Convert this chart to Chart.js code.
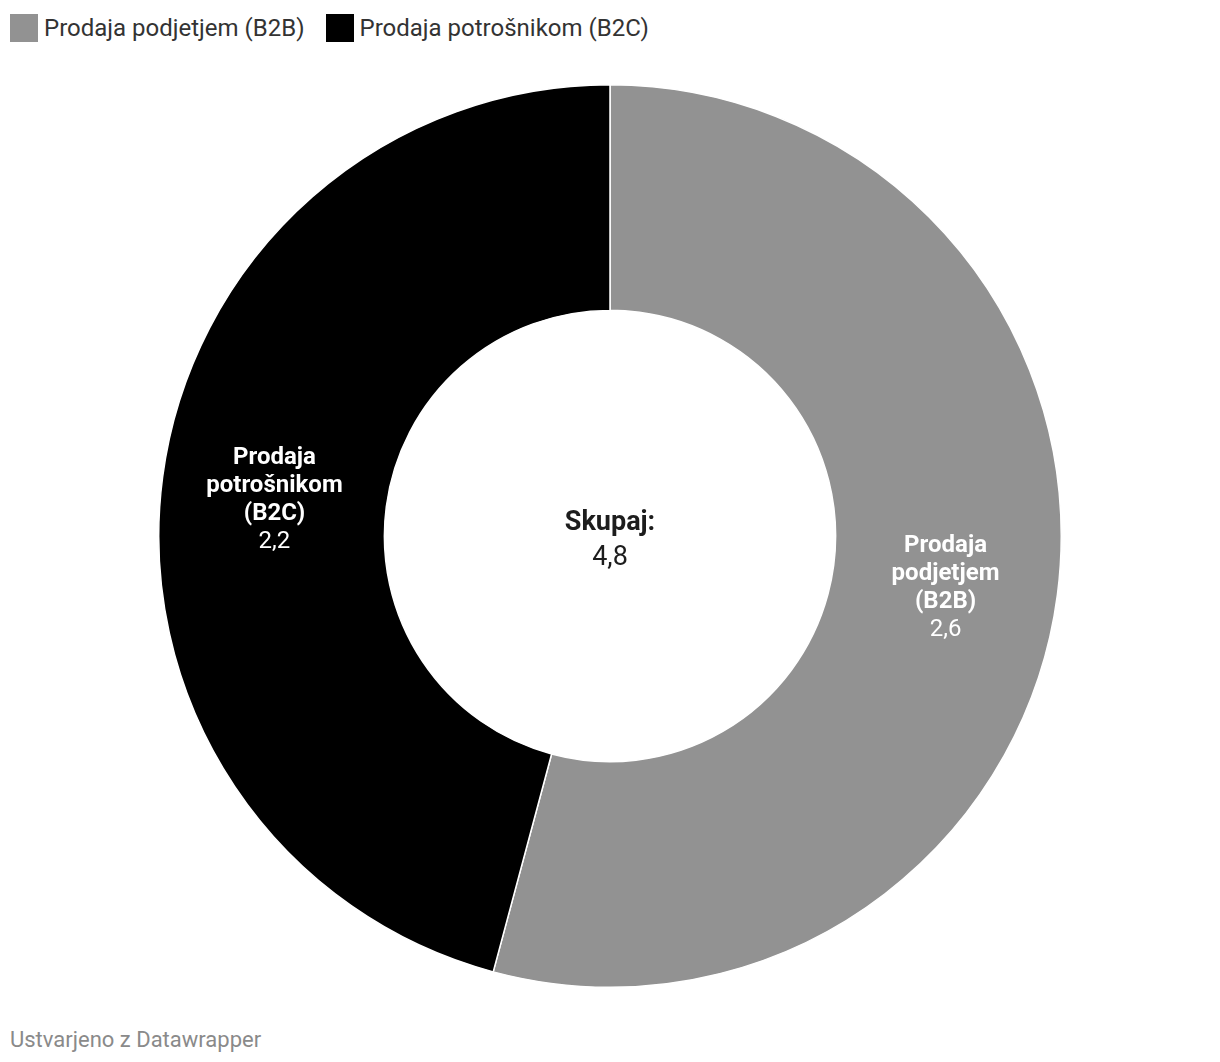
<!DOCTYPE html>
<html>
<head>
<meta charset="utf-8">
<script src="https://cdn.jsdelivr.net/npm/chart.js"></script>
<style>
    body { margin: 0; background: #fff; font-family: 'Roboto', sans-serif; width: 1220px; height: 1062px; position: relative; overflow: hidden; }
    #legend { position: absolute; left: 10px; top: 14px; display: flex; align-items: center; font-size: 24px; color: #333; line-height: 28px; }
    .item { display: flex; align-items: center; margin-right: 21px; }
    .box { width: 28px; height: 28px; margin-right: 6px; }
    #wrap { position: absolute; left: 158px; top: 84px; width: 904px; height: 904px; }
    #footer { position: absolute; left: 10px; top: 1027px; font-size: 22px; color: #8a8a8a; }
</style>
</head>
<body>
<div id="legend"></div>
<div id="wrap"><canvas id="myChart"></canvas></div>
<div id="footer">Ustvarjeno z Datawrapper</div>

<script>
    const labels = ['Prodaja podjetjem (B2B)', 'Prodaja potrošnikom (B2C)'];
    const labelLines = [['Prodaja', 'podjetjem', '(B2B)'], ['Prodaja', 'potrošnikom', '(B2C)']];
    const values = [2.6, 2.2];
    const colors = ['#929292', '#000000'];
    const totalLabel = 'Skupaj:';

    const fmt = v => v.toFixed(1).replace('.', ',');

    // html legend
    const legend = document.getElementById('legend');
    labels.forEach((l, i) => {
        const item = document.createElement('div');
        item.className = 'item';
        const box = document.createElement('span');
        box.className = 'box';
        box.style.background = colors[i];
        item.appendChild(box);
        item.appendChild(document.createTextNode(l));
        legend.appendChild(item);
    });

    const labelPlugin = {
        id: 'sliceLabels',
        afterDraw(chart) {
            const ctx = chart.ctx;
            const meta = chart.getDatasetMeta(0);
            ctx.save();
            ctx.textAlign = 'center';
            ctx.textBaseline = 'middle';
            ctx.fillStyle = '#fff';
            meta.data.forEach((arc, i) => {
                const p = arc.tooltipPosition();
                const lines = labelLines[i];
                const n = lines.length + 1;
                const lh = 28;
                let y = p.y - (n - 1) * lh / 2 + 8;
                ctx.font = 'bold 24px Roboto';
                lines.forEach(t => { ctx.fillText(t, p.x, y); y += lh; });
                ctx.font = '24px Roboto';
                ctx.fillText(fmt(values[i]), p.x, y);
            });
            // centre total
            const c = meta.data[0];
            ctx.fillStyle = '#1d1d1d';
            ctx.font = 'bold 27px Roboto';
            ctx.fillText(totalLabel, c.x, c.y - 13);
            ctx.font = '27px Roboto';
            const total = values.reduce((a, b) => a + b, 0);
            ctx.fillText(fmt(total), c.x, c.y + 22);
            ctx.restore();
        }
    };

    new Chart(document.getElementById('myChart'), {
        type: 'doughnut',
        data: {
            labels: labels,
            datasets: [{
                data: values,
                backgroundColor: colors,
                borderColor: '#fff',
                borderWidth: 1.5
            }]
        },
        options: {
            responsive: true,
            maintainAspectRatio: false,
            animation: false,
            cutout: '50%',
            layout: { padding: 0 },
            plugins: {
                legend: { display: false },
                tooltip: { enabled: false }
            }
        },
        plugins: [labelPlugin]
    });
</script>
</body>
</html>
